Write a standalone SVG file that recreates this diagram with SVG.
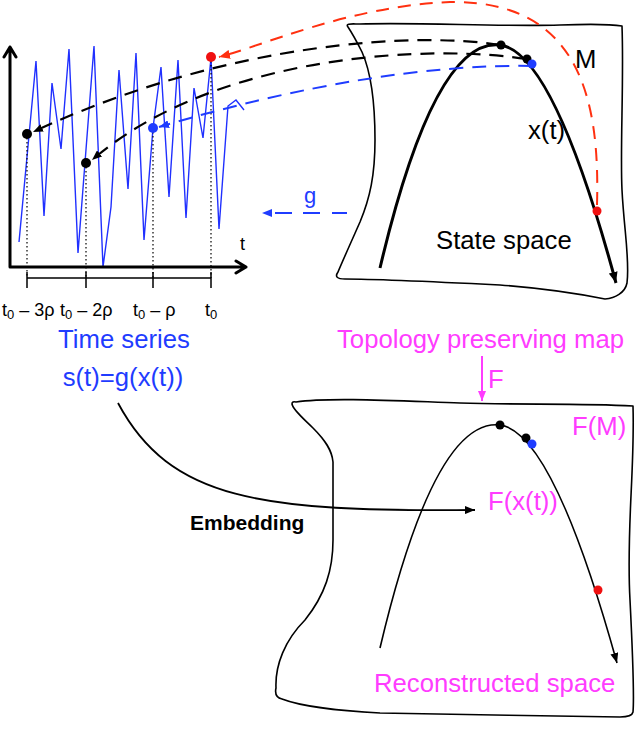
<svg xmlns="http://www.w3.org/2000/svg" width="640" height="730" viewBox="0 0 640 730">
<defs>
<style>
text{font-family:"Liberation Sans",Arial,Helvetica,sans-serif}
.big{font-size:25.7px}
.blk{fill:#000}
.blu{fill:#1f3cff}
.mag{fill:#ff3cff}
.tick{font-size:18px;fill:#000}
.edge{fill:none;stroke:#000;stroke-width:1.6;stroke-linejoin:round}
.dk{fill:none;stroke:#000;stroke-width:2.2;stroke-dasharray:14 9}
.db{fill:none;stroke:#1f3cff;stroke-width:2;stroke-dasharray:14 9}
.dr{fill:none;stroke:#ff3010;stroke-width:2;stroke-dasharray:13 9}
.dot{stroke:#000;stroke-width:1.2;stroke-dasharray:1.4 2.6}
</style>
<marker id="ak" markerUnits="userSpaceOnUse" markerWidth="10" markerHeight="8" refX="10" refY="4" orient="auto"><path d="M0,0 L10,4 L0,8 Z" fill="#000"/></marker>
<marker id="ab" markerUnits="userSpaceOnUse" markerWidth="10" markerHeight="8" refX="10" refY="4" orient="auto"><path d="M0,0 L10,4 L0,8 Z" fill="#1f3cff"/></marker>
<marker id="ar" markerUnits="userSpaceOnUse" markerWidth="11" markerHeight="9" refX="11" refY="4.5" orient="auto"><path d="M0,0 L11,4.5 L0,9 Z" fill="#ff3010"/></marker>
<marker id="am" markerUnits="userSpaceOnUse" markerWidth="10" markerHeight="8" refX="10" refY="4" orient="auto"><path d="M0,0 L10,4 L0,8 Z" fill="#ff3cff"/></marker>
<marker id="ap" markerUnits="userSpaceOnUse" markerWidth="11" markerHeight="9" refX="11" refY="4.5" orient="auto"><path d="M0,0 L11,4.5 L0,9 Z" fill="#000"/></marker>
</defs>
<rect width="640" height="730" fill="#fff"/>

<g id="time-series">
<polyline points="19,242 36,61 44,216 52,83 61,149 69,49 78,253 94,46 103,267 111,207 119,70 128,189 136,53 144,240 153,128 161,67 169,197 178,60 186,218 194,88 203,138 211,58 219,229 228,106 236,100 244,110" fill="none" stroke="#2030ff" stroke-width="1.4" stroke-linejoin="miter"/>
<line class="dot" x1="27" y1="134" x2="27" y2="278"/>
<line class="dot" x1="86" y1="163" x2="86" y2="278"/>
<line class="dot" x1="153" y1="128" x2="153" y2="278"/>
<line class="dot" x1="211" y1="57" x2="211" y2="278"/>
<path d="M10,267 V47 M4,57 L10,47 L16,57 M10,267 H246 M236,261 L246,267 L236,273" fill="none" stroke="#000" stroke-width="3" stroke-linecap="round" stroke-linejoin="round"/>
<path d="M27,278 H211 M27,272 V288 M86,272 V288 M153,272 V288 M211,272 V288" fill="none" stroke="#000" stroke-width="1.5"/>
<text x="240" y="250" class="tick">t</text>
<text x="2" y="316" class="tick">t<tspan font-size="13" dy="3">0</tspan><tspan dy="-3"> – 3ρ</tspan></text>
<text x="60" y="316" class="tick">t<tspan font-size="13" dy="3">0</tspan><tspan dy="-3"> – 2ρ</tspan></text>
<text x="133" y="316" class="tick">t<tspan font-size="13" dy="3">0</tspan><tspan dy="-3"> – ρ</tspan></text>
<text x="205" y="316" class="tick">t<tspan font-size="13" dy="3">0</tspan></text>
<text x="124" y="348" class="big blu" text-anchor="middle">Time series</text>
<text x="123" y="386" class="big blu" text-anchor="middle">s(t)=g(x(t))</text>
</g>

<g id="state-space">
<path class="edge" d="M348,27 C345,23 352,24 360,24 C420,22 500,27 560,25 C590,24 610,24 622,26 C624,80 620,150 622,190 C624,230 630,260 627,283 C625,293 615,298 605,299 C580,294 540,288 500,285 C440,282 380,279 345,279 Q333,279 338,272 C343,260 352,240 360,222 C370,198 375,175 375,140 C375,100 370,70 362,52 C357,42 352,33 348,27 Z"/>
<path d="M380,268 C415,120 455,40 500,45 C540,50 580,150 616,283" fill="none" stroke="#000" stroke-width="3" marker-end="url(#ap)"/>
<text x="575" y="68" class="big blk">M</text>
<text x="528" y="139" class="big blk">x(t)</text>
<text x="436" y="249" class="big blk">State space</text>
</g>

<g id="reconstructed-space">
<path class="edge" d="M296,402 C330,397 400,401 460,403 C520,405 580,403 633,406 C635,470 626,530 630,600 C633,660 634,700 633,712 Q632,717 620,717 C560,716 420,714 380,713 C340,711 300,706 282,699 Q274,697 276,688 C275,665 285,640 305,620 C325,595 333,570 333,540 L333,462 C332,450 325,440 313,428 C303,418 293,410 292,404 Q292,401 296,402 Z"/>
<path d="M380,648 C415,500 455,420 500,425 C540,430 580,530 617,663" fill="none" stroke="#000" stroke-width="1.6" marker-end="url(#ak)"/>
<text x="572" y="435" class="big mag">F(M)</text>
<text x="488" y="510" class="big mag">F(x(t))</text>
<text x="374" y="692" class="big mag">Reconstructed space</text>
</g>

<g id="map-label">
<text x="337" y="348" class="big mag">Topology preserving map</text>
<text x="488" y="388" class="big mag">F</text>
</g>

<g id="embedding-label">
<text x="190" y="530" font-size="21" font-weight="bold" fill="#000">Embedding</text>
</g>

<g id="connectors">
<path class="dr" d="M597,205 C600,100 580,0 450,2 C350,6 262,46 219,57" marker-end="url(#ar)"/>
<path class="dk" d="M500,45 C420,32 230,40 33,132" marker-end="url(#ak)"/>
<path class="dk" d="M526,59 C440,45 220,50 92,160" marker-end="url(#ak)"/>
<path class="db" d="M532,66 C430,64 300,85 159,127" marker-end="url(#ab)"/>
<path d="M347,213 H332 M320,213 H303 M292,213 H275" fill="none" stroke="#1f3cff" stroke-width="2"/>
<path d="M262,213 L272,209 L272,217 Z" fill="#1f3cff"/>
<text x="304" y="203" font-size="22" class="blu">g</text>
<path d="M482,356 V401" fill="none" stroke="#ff3cff" stroke-width="2" marker-end="url(#am)"/>
<path d="M118,403 C170,500 260,512 475,510" fill="none" stroke="#000" stroke-width="1.8" marker-end="url(#ak)"/>
</g>

<g id="points">
<circle cx="27" cy="134" r="5" fill="#000"/>
<circle cx="86" cy="163" r="5" fill="#000"/>
<circle cx="153" cy="128" r="5" fill="#1f3cff"/>
<circle cx="211" cy="57" r="5" fill="#f01010"/>
<circle cx="501" cy="45" r="4.5" fill="#000"/>
<circle cx="527" cy="59" r="4.5" fill="#000"/>
<circle cx="532" cy="64" r="4.5" fill="#1f3cff"/>
<circle cx="597" cy="211" r="4.5" fill="#f01010"/>
<circle cx="500" cy="425" r="4.5" fill="#000"/>
<circle cx="526" cy="438" r="4.5" fill="#000"/>
<circle cx="532" cy="444" r="4.5" fill="#1f3cff"/>
<circle cx="598" cy="590" r="4.5" fill="#f01010"/>
</g>
</svg>
